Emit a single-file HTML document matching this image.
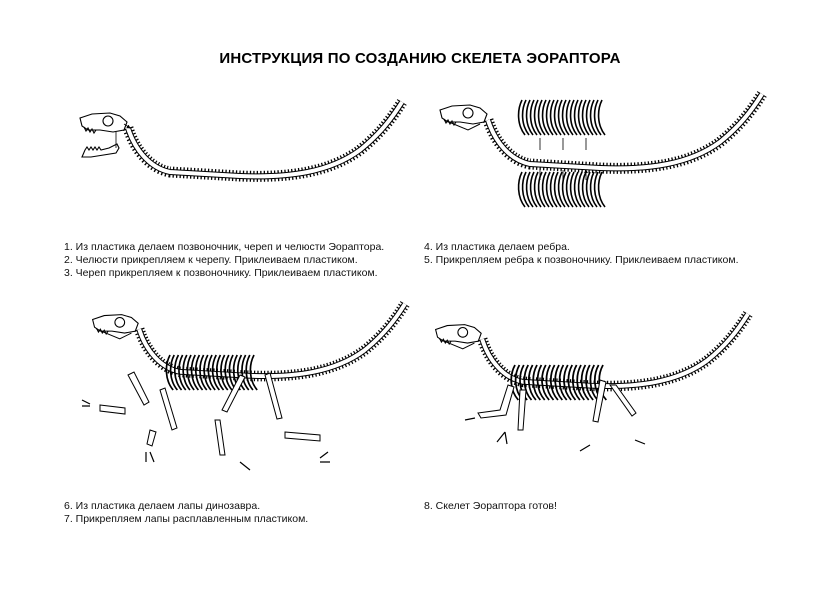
<!DOCTYPE html>
<html><head><meta charset="utf-8"><style>
body{margin:0;background:#fff;}
.w{position:relative;width:819px;height:591px;overflow:hidden;font-family:"Liberation Sans",sans-serif;}
.t{position:absolute;font-size:10.5px;color:#111;line-height:13px;}
h1{position:absolute;top:50px;left:0;width:840px;text-align:center;font-size:15px;margin:0;font-weight:bold;letter-spacing:0.2px;}
svg{position:absolute;left:0;top:0;}
</style></head><body><div class="w">
<h1>ИНСТРУКЦИЯ ПО СОЗДАНИЮ СКЕЛЕТА ЭОРАПТОРА</h1>
<svg width="819" height="591" viewBox="0 0 819 591">
<defs>
<g id="spine" fill="none" stroke-linejoin="round">
 <path d="M128,128 C135,150 150,168 170,172 L240,176 C290,178 330,172 360,150 C380,134 392,118 402,102" stroke="#000" stroke-width="11" stroke-dasharray="1.3 2.2"/>
 <path d="M128,128 C135,150 150,168 170,172 L240,176 C290,178 330,172 360,150 C380,134 392,118 402,102" stroke="#000" stroke-width="6"/>
 <path d="M128,128 C135,150 150,168 170,172 L240,176 C290,178 330,172 360,150 C380,134 392,118 402,102" stroke="#fff" stroke-width="4"/>
</g>
<g id="skull" fill="#fff" stroke="#000" stroke-width="1.1">
 <path d="M80,118 L92,114 L110,113 L120,116 L127,122 L124,130 L113,132 L100,130 L88,130 L82,126 Z"/>
 <circle cx="108" cy="121" r="5"/>
 <path d="M84,127 l2,4 2,-3 2,4 2,-3 2,4 2,-3" fill="none"/>
</g>
<g id="jaw" fill="#fff" stroke="#000" stroke-width="1.1">
 <path d="M85,150 l2,-3 2,3 2,-3 2,3 2,-3 2,3 2,-3 2,3 8,-2 8,-4 2,4 -3,5 -25,4 -9,0 Z"/>
</g>
<g id="ribs" fill="none" stroke="#000" stroke-width="1.6">
 <path d="M0,0 c-5,10 -5,25 3,35 M4,0 c-5,10 -5,25 3,35 M8,0 c-5,10 -5,25 3,35 M12,0 c-5,10 -5,25 3,35 M16,0 c-5,10 -5,25 3,35 M20,0 c-5,10 -5,25 3,35 M24,0 c-5,10 -5,25 3,35 M28,0 c-5,10 -5,25 3,35 M32,0 c-5,10 -5,25 3,35 M36,0 c-5,10 -5,25 3,35 M40,0 c-5,10 -5,25 3,35 M44,0 c-5,10 -5,25 3,35 M48,0 c-5,10 -5,25 3,35 M52,0 c-5,10 -5,25 3,35 M56,0 c-5,10 -5,25 3,35 M60,0 c-5,10 -5,25 3,35 M64,0 c-5,10 -5,25 3,35 M68,0 c-5,10 -5,25 3,35 M72,0 c-5,10 -5,25 3,35 M76,0 c-5,10 -5,25 3,35 M80,0 c-5,10 -5,25 3,35"/>
</g>
<marker id="a" markerWidth="5" markerHeight="5" refX="4" refY="2.5" orient="auto"><path d="M0,0 L5,2.5 L0,5 Z" fill="#000"/></marker>
</defs>
<use href="#spine"/><use href="#skull"/><use href="#jaw"/>
<path d="M116,148 V132 M124,124 L130,128" stroke="#000" stroke-width="0.8" marker-end="url(#a)"/>
<g transform="translate(360,-8)"><use href="#spine"/><use href="#skull"/><path d="M84,128 l24,10 12,-6" fill="none" stroke="#000"/></g>
<g transform="translate(522,100)"><use href="#ribs"/></g>
<g transform="translate(522,172)"><use href="#ribs"/></g>
<path d="M540,138 v12 M563,138 v12 M586,138 v12 M540,180 v-10 M563,180 v-10 M586,180 v-10" stroke="#000" stroke-width="0.8" marker-end="url(#a)"/>
<g transform="translate(15,205) scale(0.97)"><use href="#spine"/><use href="#skull"/><path d="M84,128 l24,10 12,-6" fill="none" stroke="#000"/></g>
<g transform="translate(170,355) scale(1.05,1)"><use href="#ribs"/></g>
<g fill="#fff" stroke="#000" stroke-width="1">
 <path d="M128,375 l6,-3 15,30 -5,3 z M100,405 l25,3 0,6 -25,-3 z M160,390 l5,-2 12,40 -5,2z M150,430 l6,2 -4,14 -5,-2z M240,375 l5,2 -18,35 -5,-2z M215,420 l5,0 5,35 -5,0z M265,375 l5,-2 12,45 -5,1z M285,432 l35,3 0,6 -35,-3z"/>
</g>
<path d="M82,400 l8,4 M82,406 l8,0 M150,452 l4,10 M146,452 l0,10 M240,462 l10,8 M320,458 l8,-6 M320,462 l10,0" stroke="#000" stroke-width="1.2"/>
<g transform="translate(358,215) scale(0.97)"><use href="#spine"/><use href="#skull"/><path d="M84,128 l24,10 12,-6" fill="none" stroke="#000"/></g>
<g transform="translate(515,365) scale(1.1,1)"><use href="#ribs"/></g>
<g fill="#fff" stroke="#000" stroke-width="1">
 <path d="M508,385 l6,2 -8,28 -25,3 -3,-5 22,-3z M520,390 l6,0 -3,40 -5,0z M600,380 l6,2 -8,40 -5,-1z M610,385 l6,0 20,28 -4,3z"/>
</g>
<path d="M475,418 l-10,2 M505,432 l-8,10 M505,432 l2,12 M590,445 l-10,6 M635,440 l10,4" stroke="#000" stroke-width="1.2"/>
</svg>
<div class="t" style="left:64px;top:241px">1. Из пластика делаем позвоночник, череп и челюсти Эораптора.<br>2. Челюсти прикрепляем к черепу. Приклеиваем пластиком.<br>3. Череп прикрепляем к позвоночнику. Приклеиваем пластиком.</div>
<div class="t" style="left:424px;top:241px">4. Из пластика делаем ребра.<br>5. Прикрепляем ребра к позвоночнику. Приклеиваем пластиком.</div>
<div class="t" style="left:64px;top:500px">6. Из пластика делаем лапы динозавра.<br>7. Прикрепляем лапы расплавленным пластиком.</div>
<div class="t" style="left:424px;top:500px">8. Скелет Эораптора готов!</div>
</div></body></html>
